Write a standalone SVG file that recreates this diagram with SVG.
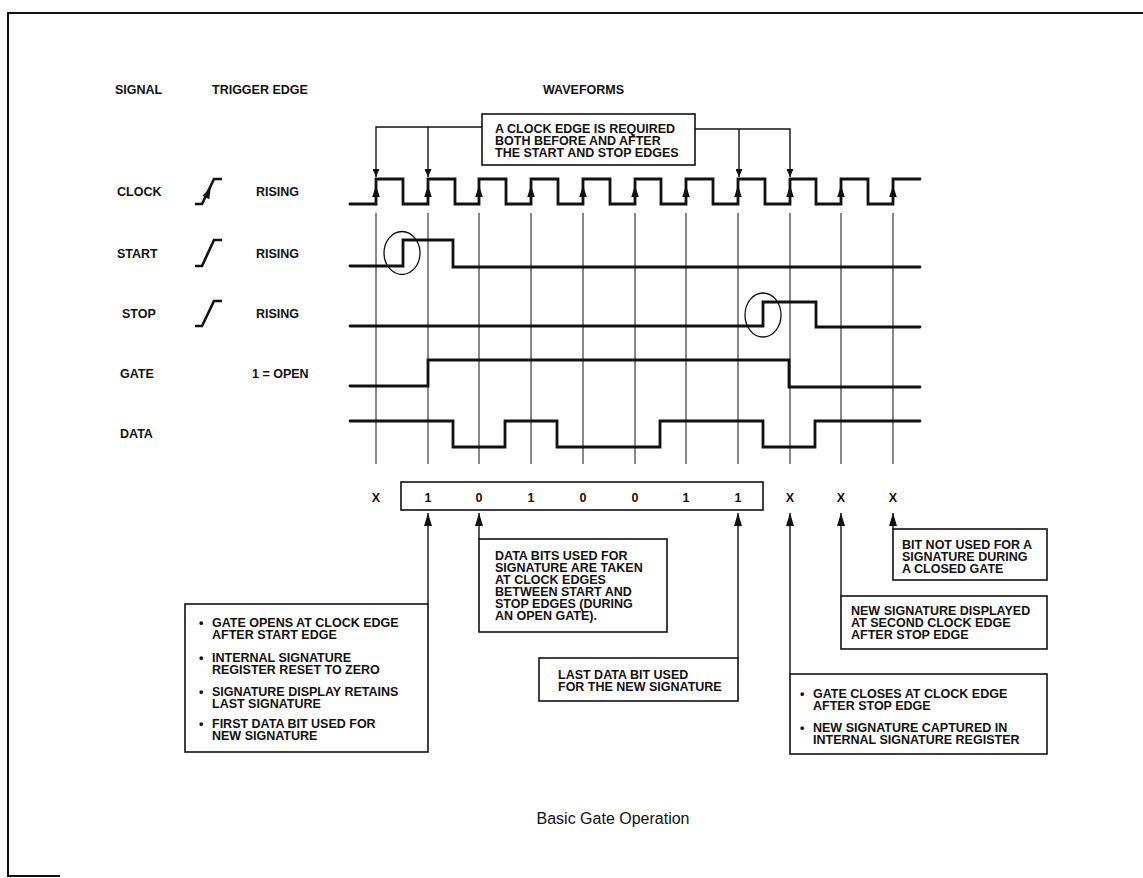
<svg xmlns="http://www.w3.org/2000/svg" xmlns:xlink="http://www.w3.org/1999/xlink" width="1143" height="878" viewBox="0 0 1143 878">
<style>
.t{font-family:"Liberation Sans",Arial,sans-serif;font-weight:bold;font-size:12.5px;fill:#111}
.c{text-anchor:middle}
.cap{font-family:"Liberation Sans",Arial,sans-serif;font-size:16px;fill:#111;text-anchor:middle}
.wave{fill:none;stroke:#111;stroke-width:2.8;stroke-linejoin:miter;stroke-linecap:round}
.grid{stroke:#111;stroke-width:1}
.box{fill:#fff;stroke:#111;stroke-width:1.6}
.conn{fill:none;stroke:#111;stroke-width:1.4}
.ring{fill:none;stroke:#111;stroke-width:1.3}
.frame{fill:none;stroke:#111;stroke-width:2}
.sym{fill:none;stroke:#111;stroke-width:2.6}
</style>
<defs>
<marker id="big" markerUnits="userSpaceOnUse" markerWidth="13" markerHeight="8" refX="13" refY="4" orient="auto"><path d="M0,0 L13,4 L0,8 z" fill="#111"/></marker>
<marker id="small" markerUnits="userSpaceOnUse" markerWidth="8" markerHeight="7" refX="8" refY="3.5" orient="auto"><path d="M0,0 L8,3.5 L0,7 z" fill="#111"/></marker>
<path id="ea" d="M0,-6.5 L3.8,5 L-3.8,5 z" fill="#111"/>
</defs>

<g id="frame">
<path class="frame" d="M8,877 V13 H1143"/>
<path class="frame" d="M8,876 H60"/>
</g>

<g id="headers">
<text class="t" x="115" y="93.5">SIGNAL</text>
<text class="t" x="212" y="93.5">TRIGGER EDGE</text>
<text class="t" x="543" y="93.5">WAVEFORMS</text>
</g>

<g id="grid">
<line class="grid" x1="376" y1="213" x2="376" y2="464"/>
<line class="grid" x1="428" y1="213" x2="428" y2="464"/>
<line class="grid" x1="479" y1="213" x2="479" y2="464"/>
<line class="grid" x1="531" y1="213" x2="531" y2="464"/>
<line class="grid" x1="583" y1="213" x2="583" y2="464"/>
<line class="grid" x1="635" y1="213" x2="635" y2="464"/>
<line class="grid" x1="686" y1="213" x2="686" y2="464"/>
<line class="grid" x1="738" y1="213" x2="738" y2="464"/>
<line class="grid" x1="790" y1="213" x2="790" y2="464"/>
<line class="grid" x1="841" y1="213" x2="841" y2="464"/>
<line class="grid" x1="893" y1="213" x2="893" y2="464"/>
</g>

<g id="clock">
<text class="t" x="117" y="196">CLOCK</text>
<path class="sym" d="M195,204 H202 L214,179 H222"/>
<use xlink:href="#ea" href="#ea" transform="translate(208,193) rotate(25.6)"/>
<text class="t" x="256" y="196">RISING</text>
<path class="wave" d="M350,204 H376 V179 H403 V204 H428 V179 H455 V204 H479 V179 H506 V204 H531 V179 H558 V204 H583 V179 H610 V204 H635 V179 H661 V204 H686 V179 H713 V204 H738 V179 H765 V204 H790 V179 H816 V204 H841 V179 H868 V204 H893 V179 H920"/>
<use href="#ea" xlink:href="#ea" x="376" y="192"/>
<use href="#ea" xlink:href="#ea" x="428" y="192"/>
<use href="#ea" xlink:href="#ea" x="479" y="192"/>
<use href="#ea" xlink:href="#ea" x="531" y="192"/>
<use href="#ea" xlink:href="#ea" x="583" y="192"/>
<use href="#ea" xlink:href="#ea" x="635" y="192"/>
<use href="#ea" xlink:href="#ea" x="686" y="192"/>
<use href="#ea" xlink:href="#ea" x="738" y="192"/>
<use href="#ea" xlink:href="#ea" x="790" y="192"/>
<use href="#ea" xlink:href="#ea" x="841" y="192"/>
<use href="#ea" xlink:href="#ea" x="893" y="192"/>
</g>

<g id="start">
<text class="t" x="117" y="257.5">START</text>
<path class="sym" d="M195,266 H202 L214,240 H222"/>
<text class="t" x="256" y="257.5">RISING</text>
<path class="wave" d="M350,266 H403 V240 H453 V267 H920"/>
<ellipse class="ring" cx="402" cy="253" rx="18" ry="21.5"/>
</g>

<g id="stop">
<text class="t" x="122" y="317.5">STOP</text>
<path class="sym" d="M195,326 H202 L214,301 H222"/>
<text class="t" x="256" y="317.5">RISING</text>
<path class="wave" d="M350,326 H763 V302 H816 V327 H920"/>
<ellipse class="ring" cx="763" cy="315" rx="18" ry="22"/>
</g>

<g id="gate">
<text class="t" x="120" y="377.5">GATE</text>
<text class="t" x="252" y="377.5">1 = OPEN</text>
<path class="wave" d="M350,386 H428 V360 H789 V387 H920"/>
</g>

<g id="data">
<text class="t" x="120" y="438">DATA</text>
<path class="wave" d="M350,421 H453 V447 H505 V421 H557 V447 H660 V421 H763 V447 H815 V421 H920"/>
</g>

<g id="connectors">
<path class="conn" d="M482,127 H376 V177" marker-end="url(#small)"/>
<line class="conn" x1="428" y1="127" x2="428" y2="177" marker-end="url(#small)"/>
<path class="conn" d="M695,129 H790 V177" marker-end="url(#small)"/>
<line class="conn" x1="739" y1="129" x2="739" y2="177" marker-end="url(#small)"/>
<line class="conn" x1="428" y1="604" x2="428" y2="513" marker-end="url(#big)"/>
<line class="conn" x1="479" y1="539" x2="479" y2="513" marker-end="url(#big)"/>
<line class="conn" x1="738" y1="658" x2="738" y2="513" marker-end="url(#big)"/>
<line class="conn" x1="790" y1="674" x2="790" y2="513" marker-end="url(#big)"/>
<line class="conn" x1="841" y1="596" x2="841" y2="513" marker-end="url(#big)"/>
<line class="conn" x1="893" y1="529" x2="893" y2="513" marker-end="url(#big)"/>
</g>

<g id="callout">
<rect class="box" x="482" y="114" width="213" height="51"/>
<text class="t"><tspan x="495" y="133">A CLOCK EDGE IS REQUIRED</tspan><tspan x="495" y="145">BOTH BEFORE AND AFTER</tspan><tspan x="495" y="157">THE START AND STOP EDGES</tspan></text>
</g>

<g id="bits">
<rect class="box" x="401" y="482" width="362" height="28"/>
<text class="t c" x="376" y="502">X</text>
<text class="t c" x="428" y="502">1</text>
<text class="t c" x="479" y="502">0</text>
<text class="t c" x="531" y="502">1</text>
<text class="t c" x="583" y="502">0</text>
<text class="t c" x="635" y="502">0</text>
<text class="t c" x="686" y="502">1</text>
<text class="t c" x="738" y="502">1</text>
<text class="t c" x="790" y="502">X</text>
<text class="t c" x="841" y="502">X</text>
<text class="t c" x="893" y="502">X</text>
</g>

<g id="box-gate-opens">
<rect class="box" x="185" y="604" width="243" height="148"/>
<text class="t"><tspan x="199" y="627">•</tspan><tspan x="199" y="662">•</tspan><tspan x="199" y="696">•</tspan><tspan x="199" y="728">•</tspan></text>
<text class="t"><tspan x="212" y="627">GATE OPENS AT CLOCK EDGE</tspan><tspan x="212" y="639">AFTER START EDGE</tspan></text>
<text class="t"><tspan x="212" y="662">INTERNAL SIGNATURE</tspan><tspan x="212" y="674">REGISTER RESET TO ZERO</tspan></text>
<text class="t"><tspan x="212" y="696">SIGNATURE DISPLAY RETAINS</tspan><tspan x="212" y="708">LAST SIGNATURE</tspan></text>
<text class="t"><tspan x="212" y="728">FIRST DATA BIT USED FOR</tspan><tspan x="212" y="740">NEW SIGNATURE</tspan></text>
</g>

<g id="box-data-bits">
<rect class="box" x="479" y="539" width="188" height="93"/>
<text class="t"><tspan x="495" y="560">DATA BITS USED FOR</tspan><tspan x="495" y="572">SIGNATURE ARE TAKEN</tspan><tspan x="495" y="584">AT CLOCK EDGES</tspan><tspan x="495" y="596">BETWEEN START AND</tspan><tspan x="495" y="608">STOP EDGES (DURING</tspan><tspan x="495" y="620">AN OPEN GATE).</tspan></text>
</g>

<g id="box-last-bit">
<rect class="box" x="539" y="658" width="199" height="43"/>
<text class="t"><tspan x="558" y="678.5">LAST DATA BIT USED</tspan><tspan x="558" y="690.5">FOR THE NEW SIGNATURE</tspan></text>
</g>

<g id="box-not-used">
<rect class="box" x="893" y="529" width="154" height="51"/>
<text class="t"><tspan x="902" y="548.5">BIT NOT USED FOR A</tspan><tspan x="902" y="560.5">SIGNATURE DURING</tspan><tspan x="902" y="572.5">A CLOSED GATE</tspan></text>
</g>

<g id="box-displayed">
<rect class="box" x="841" y="596" width="206" height="53"/>
<text class="t"><tspan x="851" y="615">NEW SIGNATURE DISPLAYED</tspan><tspan x="851" y="627">AT SECOND CLOCK EDGE</tspan><tspan x="851" y="639">AFTER STOP EDGE</tspan></text>
</g>

<g id="box-gate-closes">
<rect class="box" x="790" y="674" width="257" height="80"/>
<text class="t"><tspan x="800" y="697.5">•</tspan><tspan x="800" y="731.5">•</tspan></text>
<text class="t"><tspan x="813" y="697.5">GATE CLOSES AT CLOCK EDGE</tspan><tspan x="813" y="709.5">AFTER STOP EDGE</tspan></text>
<text class="t"><tspan x="813" y="731.5">NEW SIGNATURE CAPTURED IN</tspan><tspan x="813" y="743.5">INTERNAL SIGNATURE REGISTER</tspan></text>
</g>

<g id="caption">
<text class="cap" x="613" y="824">Basic Gate Operation</text>
</g>
</svg>
